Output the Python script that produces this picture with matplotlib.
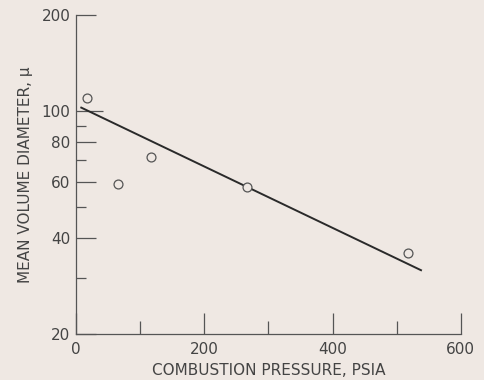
import numpy as np
import matplotlib
matplotlib.use("Agg")
import matplotlib.pyplot as plt
from matplotlib.ticker import FixedLocator, NullFormatter

# datos
presion = [17, 66, 117, 267, 517]
diametro = [110, 59, 72, 58, 36]
# recta de ajuste (extremos)
recta_x = [8, 538]
recta_y = [102.5, 31.7]

y_mayores = [20, 40, 60, 80, 100, 200]
y_menores = [30, 50, 70, 90]
x_mayores = [0, 200, 400, 600]
x_menores = [100, 300, 500]

fondo = "#efe8e3"
tinta = "#444444"

fig = plt.figure(figsize=(4.85, 3.8), dpi=100, facecolor=fondo)
ax = fig.add_axes([0.157, 0.121, 0.793, 0.8395])
ax.set_facecolor(fondo)

ax.plot(recta_x, recta_y, color="#2a2a2a", lw=1.4, zorder=2)
ax.plot(presion, diametro, "o", ms=6.4, mfc=fondo, mec="#555555", mew=0.9, zorder=3)

ax.set_yscale("log")
ax.set_ylim(20, 200)
ax.set_xlim(0, 600)

ax.yaxis.set_major_locator(FixedLocator(y_mayores))
ax.yaxis.set_minor_locator(FixedLocator(y_menores))
ax.set_yticklabels([str(v) for v in y_mayores])
ax.yaxis.set_minor_formatter(NullFormatter())
ax.xaxis.set_major_locator(FixedLocator(x_mayores))
ax.xaxis.set_minor_locator(FixedLocator(x_menores))
ax.set_xticklabels([str(v) for v in x_mayores])

for s in ["top", "right"]:
    ax.spines[s].set_visible(False)
for s in ["left", "bottom"]:
    ax.spines[s].set_color("#555555")
    ax.spines[s].set_linewidth(0.9)

ax.tick_params(axis="y", which="major", direction="in", length=14.4, width=0.9,
               color="#555555", labelsize=11, labelcolor=tinta, pad=4)
ax.tick_params(axis="y", which="minor", direction="in", length=7.2, width=0.9,
               color="#555555")
ax.tick_params(axis="x", which="major", direction="in", length=15, width=0.9,
               color="#555555", labelsize=11, labelcolor=tinta, pad=6)
ax.tick_params(axis="x", which="minor", direction="in", length=9.4, width=0.9,
               color="#555555")

# la marca de 100 es mas larga
for t in ax.yaxis.get_major_ticks():
    if t.get_loc() == 100:
        t.tick1line.set_markersize(19.5)

ax.set_xlabel("COMBUSTION PRESSURE, PSIA", fontsize=11, color=tinta, labelpad=4)
ax.set_ylabel("MEAN VOLUME DIAMETER, \u03bc", fontsize=11, color=tinta, labelpad=6)

fig.savefig("out.png", dpi=100, facecolor=fondo)
